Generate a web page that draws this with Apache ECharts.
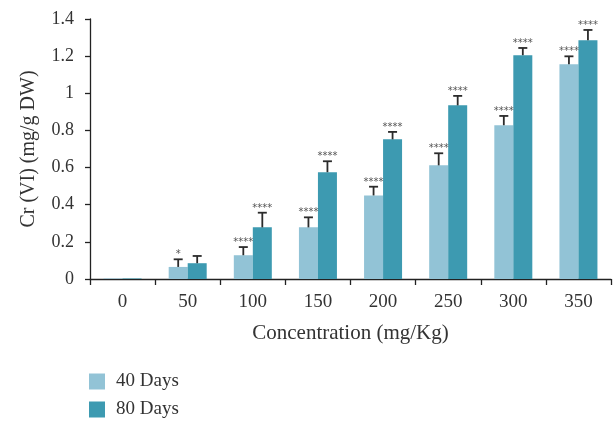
<!DOCTYPE html>
<html><head><meta charset="utf-8">
<script src="https://cdn.jsdelivr.net/npm/echarts@6/dist/echarts.min.js"></script>
<style>html,body{margin:0;padding:0;background:#fff;}#c{width:613px;height:421px;}</style>
</head><body><div id="c"></div>
<script>
const categories = ['0','50','100','150','200','250','300','350'];
const days40 = [0.003, 0.065, 0.128, 0.278, 0.45, 0.612, 0.828, 1.156];
const days80 = [0.003, 0.085, 0.278, 0.575, 0.752, 0.935, 1.205, 1.285];
const err40 = [0, 0.041, 0.044, 0.054, 0.047, 0.065, 0.05, 0.043];
const err80 = [0, 0.039, 0.079, 0.059, 0.04, 0.051, 0.039, 0.056];
const sig40 = ['', '*', '****', '****', '****', '****', '****', '****'];
const sig80 = ['', '', '****', '****', '****', '****', '****', '****'];
const seriesNames = ['40 Days', '80 Days'];
const colors = ['#92C3D6', '#3D9AB1'];
const FONT = 'Liberation Serif';
const BAR_W = 19;

function errSeries(vals, errs, sigs, side) {
  const data = vals.map((v, i) => [i, v, v + errs[i]]);
  return {
    type: 'custom',
    silent: true,
    z: 5,
    data: data,
    renderItem: function (params, api) {
      const i = api.value(0);
      const base = api.coord([i, api.value(1)]);
      const top = api.coord([i, api.value(2)]);
      const x = base[0] + side * BAR_W / 2;
      const children = [];
      if (api.value(2) > api.value(1)) {
        children.push({ type: 'line', shape: { x1: x, y1: base[1], x2: x, y2: top[1] }, style: { stroke: '#2b2b2b', lineWidth: 1.8 } });
        children.push({ type: 'line', shape: { x1: x - 4.5, y1: top[1], x2: x + 4.5, y2: top[1] }, style: { stroke: '#2b2b2b', lineWidth: 1.8 } });
      }
      const s = sigs[i];
      if (s) {
        children.push({ type: 'text', style: { text: s, x: x, y: top[1] - 4.5, align: 'center', verticalAlign: 'middle', font: '10px DejaVu Sans', fill: '#555' } });
      }
      return { type: 'group', children: children };
    }
  };
}

const chart = echarts.init(document.getElementById('c'), null, { renderer: 'canvas' });
chart.setOption({
  animation: false,
  backgroundColor: '#fff',
  textStyle: { fontFamily: FONT },
  grid: { left: 90, right: 2, top: 19, bottom: 142 },
  legend: {
    orient: 'vertical', left: 89, top: 372, height: 60, padding: 0, itemWidth: 16, itemHeight: 16, itemGap: 9,
    icon: 'rect',
    data: seriesNames,
    textStyle: { fontFamily: FONT, fontSize: 19, lineHeight: 16, color: '#333', padding: [0, 0, 0, 6] }
  },
  xAxis: {
    type: 'category', data: categories,
    axisLine: { lineStyle: { color: '#222', width: 1.3 } },
    axisTick: { show: true, length: 6, lineStyle: { color: '#222', width: 1.3 } },
    axisLabel: { fontFamily: FONT, fontSize: 19, color: '#333', margin: 14 },
    name: 'Concentration (mg/Kg)', nameLocation: 'middle', nameGap: 44,
    nameTextStyle: { fontFamily: FONT, fontSize: 21, color: '#333' }
  },
  yAxis: {
    type: 'value', min: 0, max: 1.4, interval: 0.2,
    axisLine: { show: true, lineStyle: { color: '#222', width: 1.3 } },
    axisTick: { show: true, length: 5, lineStyle: { color: '#222', width: 1.3 } },
    splitLine: { show: false },
    axisLabel: { fontFamily: FONT, fontSize: 18, color: '#333', margin: 16 },
    name: 'Cr (VI) (mg/g DW)', nameLocation: 'middle', nameGap: 51,
    nameTextStyle: { fontFamily: FONT, fontSize: 20, color: '#333' }
  },
  series: [
    { name: seriesNames[0], type: 'bar', data: days40, barWidth: BAR_W, barGap: '0%', itemStyle: { color: colors[0] } },
    { name: seriesNames[1], type: 'bar', data: days80, barWidth: BAR_W, barGap: '0%', itemStyle: { color: colors[1] } },
    errSeries(days40, err40, sig40, -1),
    errSeries(days80, err80, sig80, 1)
  ]
});
</script></body></html>
